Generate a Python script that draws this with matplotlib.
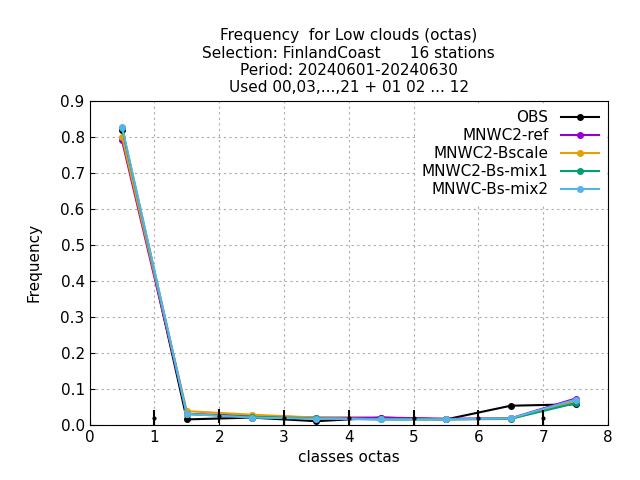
import matplotlib
matplotlib.use("Agg")
import matplotlib.pyplot as plt

x = [0.5, 1.5, 2.5, 3.5, 4.5, 5.5, 6.5, 7.5]
obs = [0.82, 0.015, 0.02, 0.01, 0.02, 0.015, 0.053, 0.057]
ref = [0.79, 0.03, 0.025, 0.02, 0.02, 0.017, 0.018, 0.073]
bscale = [0.80, 0.038, 0.028, 0.02, 0.015, 0.015, 0.016, 0.065]
mix1 = [0.825, 0.03, 0.022, 0.018, 0.015, 0.015, 0.017, 0.06]
mix2 = [0.828, 0.03, 0.02, 0.017, 0.015, 0.015, 0.018, 0.07]
names = ["OBS", "MNWC2-ref", "MNWC2-Bscale", "MNWC2-Bs-mix1", "MNWC-Bs-mix2"]
colors = ["black", "#9400d3", "#e69f00", "#009e73", "#56b4e9"]
bar_x = [1, 2, 3, 4, 5, 6, 7]
bar_y = [0.02, 0.025, 0.02, 0.02, 0.02, 0.02, 0.02]

fig, ax = plt.subplots(figsize=(6.4, 4.8), dpi=100)
fig.subplots_adjust(left=0.14, right=0.95, top=0.79, bottom=0.115)
for ys, n, c in zip([obs, ref, bscale, mix1, mix2], names, colors):
    ax.plot(x, ys, color=c, lw=1.5, marker="o", ms=4, label=n)
ax.errorbar(bar_x, bar_y, yerr=0.02, fmt="o", color="black", ms=2, elinewidth=1.5, capsize=0)
ax.set_xlim(0, 8)
ax.set_ylim(0, 0.9)
ax.grid(True, color="#aaaaaa", linestyle=(0, (2, 3)), lw=0.8)
ax.set_xlabel("classes octas", fontsize=11)
ax.set_ylabel("Frequency", fontsize=11, labelpad=14)
ax.set_title("Frequency  for Low clouds (octas)\nSelection: FinlandCoast      16 stations\n"
             "Period: 20240601-20240630\nUsed 00,03,...,21 + 01 02 ... 12", fontsize=11)
ax.tick_params(direction="in", labelsize=11)
leg = ax.legend(loc="upper right", frameon=True, fancybox=False, edgecolor="white",
                framealpha=1, markerfirst=False, fontsize=11,
                handlelength=2.5, borderaxespad=0.2, labelspacing=0.2)
plt.savefig("out.png")
